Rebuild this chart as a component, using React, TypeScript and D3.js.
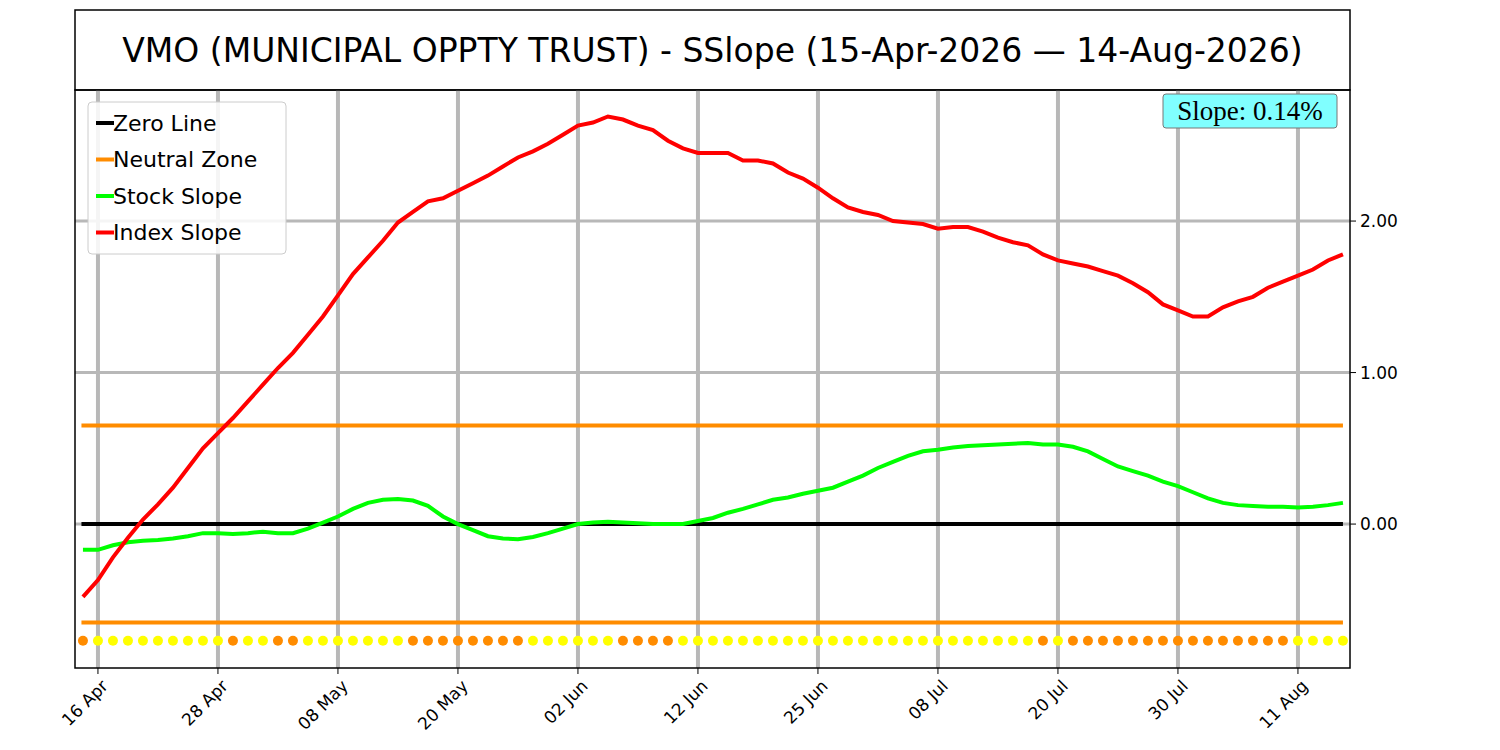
import React, { useEffect, useRef } from 'react';
import * as d3 from 'd3';

const indexSlope = [
  -0.48, -0.37, -0.22, -0.09, 0.03, 0.13, 0.24, 0.37, 0.5, 0.6,
  0.7, 0.81, 0.92, 1.03, 1.13, 1.25, 1.37, 1.51, 1.65, 1.76,
  1.87, 1.99, 2.06, 2.13, 2.15, 2.2, 2.25, 2.3, 2.36, 2.42,
  2.46, 2.51, 2.57, 2.63, 2.65, 2.69, 2.67, 2.63, 2.6, 2.53,
  2.48, 2.45, 2.45, 2.45, 2.4, 2.4, 2.38, 2.32, 2.28, 2.22,
  2.15, 2.09, 2.06, 2.04, 2.0, 1.99, 1.98, 1.95, 1.96, 1.96,
  1.93, 1.89, 1.86, 1.84, 1.78, 1.74, 1.72, 1.7, 1.67, 1.64,
  1.59, 1.53, 1.45, 1.41, 1.37, 1.37, 1.43, 1.47, 1.5, 1.56,
  1.6, 1.64, 1.68, 1.74, 1.78,
];

const stockSlope = [
  -0.17, -0.17, -0.14, -0.12, -0.11, -0.105, -0.095, -0.08, -0.06, -0.06,
  -0.065, -0.06, -0.05, -0.06, -0.06, -0.03, 0.01, 0.05, 0.1, 0.14,
  0.16, 0.165, 0.155, 0.12, 0.05, 0.0, -0.04, -0.08, -0.095, -0.1,
  -0.085, -0.06, -0.03, 0.0, 0.01, 0.015, 0.01, 0.005, 0.0, 0.0,
  0.0, 0.02, 0.04, 0.075, 0.1, 0.13, 0.16, 0.175, 0.2, 0.22,
  0.24, 0.28, 0.32, 0.37, 0.41, 0.45, 0.48, 0.49, 0.505, 0.515,
  0.52, 0.525, 0.53, 0.535, 0.525, 0.525, 0.51, 0.48, 0.43, 0.38,
  0.35, 0.32, 0.28, 0.25, 0.21, 0.17, 0.14, 0.125, 0.12, 0.115,
  0.115, 0.11, 0.115, 0.125, 0.14,
];

// O = orange, Y = yellow marker per day
const dotFlags =
  'OYYYYYYYYYOYYOOYYYYYYYOOOOOOOOYYYYYYOOOOYYYYYYYYYYYYYYYYYYYYYYYYOYOOOOOOOOOOOOOOOYYYY';

const tickIdx = [1, 9, 17, 25, 33, 41, 49, 57, 65, 73, 81];
const tickLabels = ['16 Apr', '28 Apr', '08 May', '20 May', '02 Jun', '12 Jun', '25 Jun', '08 Jul', '20 Jul', '30 Jul', '11 Aug'];
const yTicks = [0, 1, 2];
const neutral = 0.65;
const dotLevel = -0.77;

const App: React.FC = () => {
  const ref = useRef<SVGSVGElement>(null);

  useEffect(() => {
    if (!ref.current) return;
    const svg = d3.select(ref.current);
    svg.selectAll('*').remove();

    const L = 75, R = 1350, T = 90, B = 668;
    const font = 'DejaVu Sans, sans-serif';
    const x = d3.scaleLinear().domain([-0.53, 84.47]).range([L, R]);
    const y = d3.scaleLinear().domain([-0.95, 2.865]).range([B, T]);

    svg.append('rect').attr('width', 1500).attr('height', 750).attr('fill', '#fff');

    // title box
    svg.append('rect').attr('x', L).attr('y', 10).attr('width', R - L).attr('height', 80)
      .attr('fill', '#fff').attr('stroke', '#000').attr('stroke-width', 1.5);
    svg.append('text').attr('x', (L + R) / 2).attr('y', 50).attr('text-anchor', 'middle')
      .attr('dominant-baseline', 'central').attr('font-family', font).attr('font-size', 33)
      .text('VMO (MUNICIPAL OPPTY TRUST) - SSlope (15-Apr-2026 \u2014 14-Aug-2026)');

    const g = svg.append('g');
    g.append('defs').append('clipPath').attr('id', 'clip')
      .append('rect').attr('x', L).attr('y', T).attr('width', R - L).attr('height', B - T);

    // grid
    g.selectAll('.vg').data(tickIdx).join('line')
      .attr('x1', d => x(d)).attr('x2', d => x(d)).attr('y1', T).attr('y2', B)
      .attr('stroke', '#b8b8b8').attr('stroke-width', 4);
    g.selectAll('.hg').data(yTicks).join('line')
      .attr('x1', L).attr('x2', R).attr('y1', d => y(d)).attr('y2', d => y(d))
      .attr('stroke', '#b8b8b8').attr('stroke-width', 3);

    const p = g.append('g').attr('clip-path', 'url(#clip)');
    const hline = (v: number, c: string) =>
      p.append('line').attr('x1', x(-0.1)).attr('x2', x(84)).attr('y1', y(v)).attr('y2', y(v))
        .attr('stroke', c).attr('stroke-width', 4);
    hline(0, '#000');
    hline(neutral, '#ff8c00');
    hline(-neutral, '#ff8c00');

    const line = d3.line<number>().x((_, i) => x(i)).y(d => y(d));
    p.append('path').datum(stockSlope).attr('d', line).attr('fill', 'none')
      .attr('stroke', '#00ff00').attr('stroke-width', 4);
    p.append('path').datum(indexSlope).attr('d', line).attr('fill', 'none')
      .attr('stroke', '#ff0000').attr('stroke-width', 4);

    p.selectAll('.dot').data(dotFlags.split('')).join('circle')
      .attr('cx', (_, i) => x(i)).attr('cy', y(dotLevel)).attr('r', 5)
      .attr('fill', d => (d === 'O' ? '#ff8c00' : '#ffff00'));

    // frame
    svg.append('rect').attr('x', L).attr('y', T).attr('width', R - L).attr('height', B - T)
      .attr('fill', 'none').attr('stroke', '#000').attr('stroke-width', 1.5);

    // y axis on the right
    yTicks.forEach(v => {
      svg.append('line').attr('x1', R).attr('x2', R + 6).attr('y1', y(v)).attr('y2', y(v)).attr('stroke', '#000');
      svg.append('text').attr('x', R + 10).attr('y', y(v)).attr('dominant-baseline', 'central')
        .attr('font-family', font).attr('font-size', 17).text(d3.format('.2f')(v));
    });

    // x axis
    tickIdx.forEach((v, i) => {
      svg.append('line').attr('x1', x(v)).attr('x2', x(v)).attr('y1', B).attr('y2', B + 6).attr('stroke', '#000');
      svg.append('text').attr('transform', `translate(${x(v) + 2},${B + 10}) rotate(-45)`)
        .attr('text-anchor', 'end').attr('dominant-baseline', 'hanging')
        .attr('font-family', font).attr('font-size', 17).text(tickLabels[i]);
    });

    // legend
    const lg = svg.append('g').attr('transform', 'translate(88,102)');
    lg.append('rect').attr('width', 198).attr('height', 152).attr('rx', 4)
      .attr('fill', '#fff').attr('fill-opacity', 0.85).attr('stroke', '#ccc');
    const items: [string, string][] = [
      ['Zero Line', '#000'], ['Neutral Zone', '#ff8c00'], ['Stock Slope', '#00ff00'], ['Index Slope', '#ff0000'],
    ];
    items.forEach(([name, c], i) => {
      const yy = 21 + i * 36.5;
      lg.append('line').attr('x1', 8).attr('x2', 26).attr('y1', yy).attr('y2', yy).attr('stroke', c).attr('stroke-width', 4);
      lg.append('text').attr('x', 25).attr('y', yy).attr('dominant-baseline', 'central')
        .attr('font-family', font).attr('font-size', 22).text(name);
    });

    // slope badge
    const bg = svg.append('g').attr('transform', 'translate(1163,94)');
    bg.append('rect').attr('width', 174).attr('height', 34).attr('rx', 3)
      .attr('fill', '#80ffff').attr('stroke', '#777');
    bg.append('text').attr('x', 87).attr('y', 17).attr('text-anchor', 'middle').attr('dominant-baseline', 'central')
      .attr('font-family', 'Liberation Serif, serif').attr('font-size', 27)
      .text('Slope: 0.14%');
  }, []);

  return <svg ref={ref} width={1500} height={750} style={{ display: 'block', margin: -8 }} />;
};

export default App;
